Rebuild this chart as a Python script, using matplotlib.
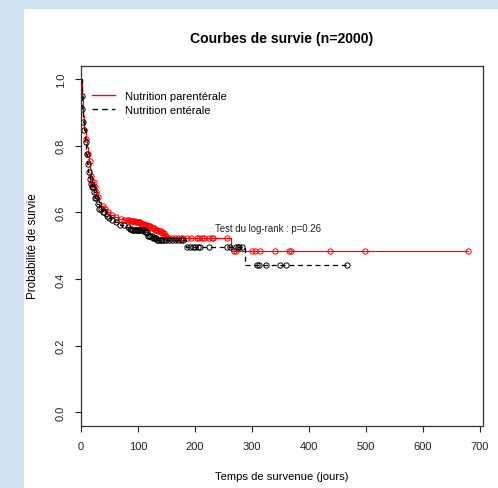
import numpy as np
import matplotlib
matplotlib.use("Agg")
import matplotlib.pyplot as plt
from matplotlib.patches import Rectangle
from matplotlib.lines import Line2D

plt.rcParams['font.family'] = ['Liberation Sans', 'DejaVu Sans']

# --- Data ---
# Nutrition parentérale (red): event times and survival after each step
red_times = [0, 2, 4, 6, 8, 10, 12, 14, 16, 18, 20, 23, 26, 29, 32, 36, 40, 45, 51,
             58, 65, 75, 85, 95, 105, 112, 118, 124, 130, 136, 142, 147, 152, 263]
red_surv = [1.0, 0.95, 0.89, 0.85, 0.82, 0.795, 0.775, 0.755, 0.73, 0.71, 0.69, 0.675,
            0.66, 0.645, 0.632, 0.62, 0.61, 0.60, 0.592, 0.585, 0.58, 0.576, 0.573,
            0.57, 0.566, 0.562, 0.558, 0.553, 0.548, 0.543, 0.537, 0.53, 0.522, 0.484]
red_censor = [8, 12, 15, 18, 20, 22, 25, 27, 30, 38, 42, 48, 55, 62, 70, 76, 80, 84,
              86, 88, 90, 92, 94, 96, 98, 100, 101, 103, 105, 107, 108, 110, 112, 114,
              116, 118, 120, 122, 124, 126, 128, 130, 132, 134, 136, 138, 140, 142,
              144, 146, 148, 150, 155, 160, 165, 170, 175, 180, 186, 194, 203, 207,
              212, 216, 224, 230, 232, 256, 268, 273, 301, 306, 314, 340, 365, 368,
              437, 498, 680]

# Nutrition entérale (black, dashed)
black_times = [0, 1, 2, 4, 5, 7, 9, 11, 13, 15, 17, 19, 22, 25, 28, 32, 37, 42, 48,
               53, 60, 68, 76, 83, 90, 112, 118, 126, 133, 184, 288]
black_surv = [1.0, 0.95, 0.91, 0.87, 0.847, 0.81, 0.775, 0.745, 0.72, 0.70, 0.685,
              0.675, 0.66, 0.642, 0.625, 0.61, 0.60, 0.59, 0.582, 0.576, 0.57, 0.563,
              0.557, 0.551, 0.546, 0.541, 0.53, 0.523, 0.516, 0.497, 0.443]
black_censor = [1, 2, 4, 6, 8, 10, 12, 14, 16, 18, 19, 21, 23, 25, 27, 29, 32, 35, 38,
                41, 45, 50, 55, 62, 68, 75, 82, 86, 88, 90, 92, 94, 96, 98, 100, 102,
                104, 106, 108, 110, 112, 114, 116, 118, 120, 122, 124, 126, 128, 130,
                132, 134, 136, 138, 140, 143, 146, 150, 155, 160, 165, 170, 175, 180,
                186, 192, 196, 200, 205, 209, 224, 256, 262, 272, 275, 278, 282, 309,
                312, 325, 349, 360, 467]

series_labels = ["Nutrition parentérale", "Nutrition entérale"]
title = "Courbes de survie (n=2000)"
xlabel = "Temps de survenue (jours)"
ylabel = "Probabilité de survie"
annot = "Test du log-rank : p=0.26"
xticks = [0, 100, 200, 300, 400, 500, 600, 700]
yticks = [0.0, 0.2, 0.4, 0.6, 0.8, 1.0]

# --- Figure ---
W, H = 498, 489
fig = plt.figure(figsize=(W / 100, H / 100), dpi=100)
fig.patch.set_facecolor("#cfe0f2")
fig.patches.append(Rectangle((24 / W, 0), 1 - 24 / W, 1 - 10 / H,
                             transform=fig.transFigure, facecolor="white",
                             edgecolor="none", zorder=-10))

L, R, T, B = 81, 483, 66.7, 426.7
ax = fig.add_axes([L / W, 1 - B / H, (R - L) / W, (B - T) / H])
ax.set_zorder(5)
ax.set_facecolor("white")


def draw(times, surv, censor, color, ls):
    t = np.asarray(times, float)
    s = np.asarray(surv, float)
    c = np.asarray(censor, float)
    tend = max(t[-1], c.max())
    tt = np.append(t, tend)
    ss = np.append(s, s[-1])
    if ls == "--":
        ax.step(tt, ss, where="post", color=color, lw=0.9, dashes=(4, 3))
    else:
        ax.step(tt, ss, where="post", color=color, lw=0.9)
    idx = np.searchsorted(t, c, side="right") - 1
    ax.plot(c, s[idx], linestyle="none", marker="o", markersize=3.8,
            markerfacecolor="none", markeredgecolor=color, markeredgewidth=0.7)


draw(red_times, red_surv, red_censor, "#ff0000", "-")
draw(black_times, black_surv, black_censor, "black", "--")

ax.set_xlim(0, 706)
ax.set_ylim(-0.04, 1.04)
ax.set_xticks(xticks)
ax.set_yticks(yticks)
ax.set_xticklabels([str(v) for v in xticks])
ax.set_yticklabels([f"{v:.1f}" for v in yticks], rotation=90, va="center")
ax.tick_params(direction="out", length=4, width=0.8, labelsize=8.0, pad=7,
               colors="#222222")
for sp in ax.spines.values():
    sp.set_linewidth(0.9)
    sp.set_color("#333333")

handles = [Line2D([], [], color="#ff0000", lw=1.0),
           Line2D([], [], color="black", lw=1.0, dashes=(4, 3))]
ax.legend(handles, series_labels, loc="upper left", frameon=False,
          bbox_to_anchor=((92 - L) / (R - L), (B - 91.5) / (B - T)),
          borderpad=0, borderaxespad=0, handlelength=2.05, handletextpad=0.9,
          labelspacing=0.4, fontsize=8.0)

ax.text(328, 0.553, annot, ha="center", va="center", fontsize=6.95, color="#222222")

fig.text(282 / W, 1 - 39 / H, title, ha="center", va="center", fontsize=10.1,
         fontweight="bold")
fig.text(282 / W, 1 - 477 / H, xlabel, ha="center", va="center", fontsize=8.15)
fig.text(33 / W, 1 - 246 / H, ylabel, ha="center", va="center", fontsize=8.4,
         rotation=90)

fig.savefig("out.png", dpi=100, facecolor=fig.get_facecolor())
